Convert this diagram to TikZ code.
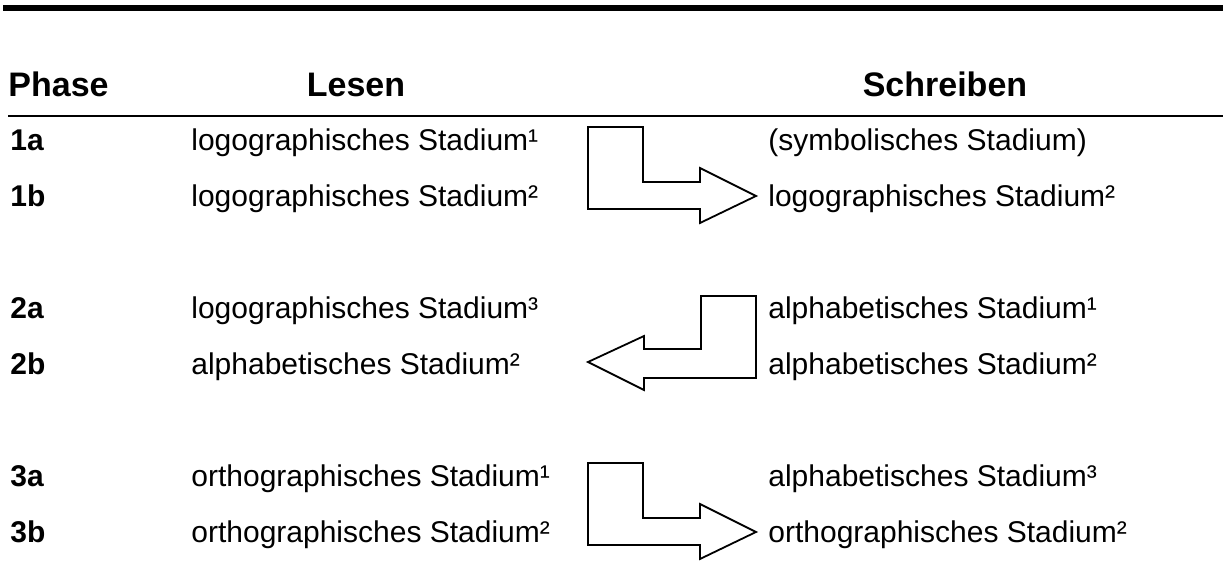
\documentclass[tikz,border=0pt]{standalone}
\usepackage{fontspec}
\setmainfont{Liberation Sans}
\begin{document}
\begin{tikzpicture}[x=0.5pt, y=-0.5pt,
  head/.style={anchor=base, inner sep=0pt, font=\fontsize{17}{20}\selectfont\bfseries},
  phase/.style={anchor=base west, inner sep=0pt, font=\fontsize{15}{18}\selectfont\bfseries},
  stage/.style={anchor=base west, inner sep=0pt, font=\fontsize{15}{18}\selectfont},
  blockarrow/.style={draw, line width=0.9pt, line join=miter}]
  \useasboundingbox (0,0) rectangle (1223,562);
  % rules
  \draw[line width=3pt] (3,8) -- (1223,8);
  \draw[line width=1pt] (8,116) -- (1223,116);
  % header
  \node[head, anchor=base west] (hphase) at (8,97) {Phase};
  \node[head] (hlesen) at (356,97) {Lesen};
  \node[head] (hschreiben) at (945,97) {Schreiben};
  % phase 1
  \node[phase] (p1a) at (10,150) {1a};
  \node[phase] (p1b) at (10,206) {1b};
  \node[stage] (l1a) at (191,150) {logographisches Stadium¹};
  \node[stage] (l1b) at (191,206) {logographisches Stadium²};
  \node[stage] (s1a) at (768,150) {(symbolisches Stadium)};
  \node[stage] (s1b) at (768,206) {logographisches Stadium²};
  % phase 2
  \node[phase] (p2a) at (10,318) {2a};
  \node[phase] (p2b) at (10,374) {2b};
  \node[stage] (l2a) at (191,318) {logographisches Stadium³};
  \node[stage] (l2b) at (191,374) {alphabetisches Stadium²};
  \node[stage] (s2a) at (768,318) {alphabetisches Stadium¹};
  \node[stage] (s2b) at (768,374) {alphabetisches Stadium²};
  % phase 3
  \node[phase] (p3a) at (10,486) {3a};
  \node[phase] (p3b) at (10,542) {3b};
  \node[stage] (l3a) at (191,486) {orthographisches Stadium¹};
  \node[stage] (l3b) at (191,542) {orthographisches Stadium²};
  \node[stage] (s3a) at (768,486) {alphabetisches Stadium³};
  \node[stage] (s3b) at (768,542) {orthographisches Stadium²};
  % Lesen -> Schreiben
  \foreach \y in {127,463}
    \draw[blockarrow] (588,\y) -- (643,\y) -- (643,\y+55) -- (700,\y+55) -- (700,\y+41)
      -- (756,\y+69) -- (700,\y+96) -- (700,\y+82) -- (588,\y+82) -- cycle;
  % Schreiben -> Lesen
  \draw[blockarrow] (756,296) -- (701,296) -- (701,349) -- (644,349) -- (644,336)
    -- (588,362) -- (644,390) -- (644,378) -- (756,378) -- cycle;
\end{tikzpicture}
\end{document}
